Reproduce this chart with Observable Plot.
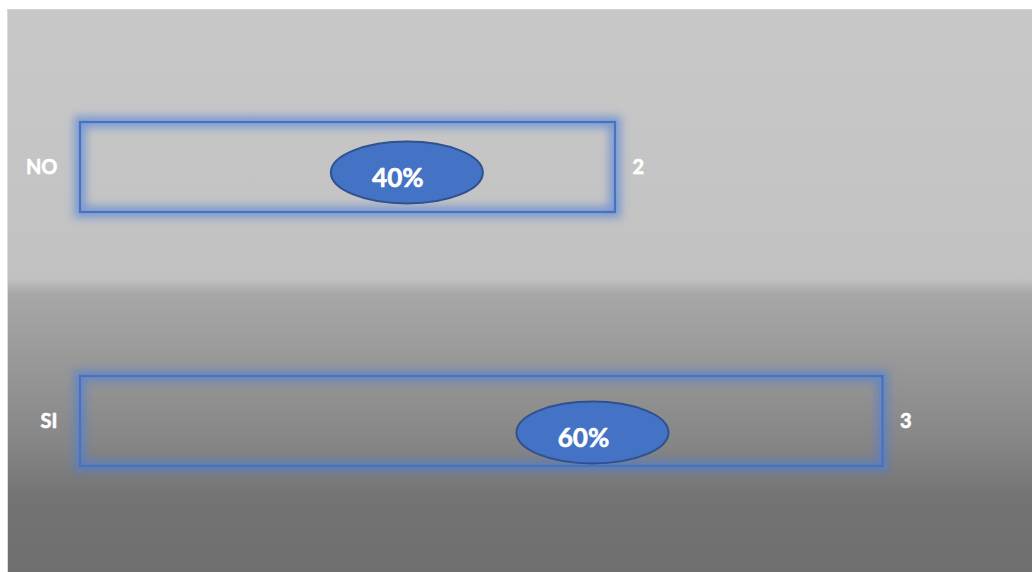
<!DOCTYPE html>
<html>
<head>
<meta charset="utf-8">
<script src="https://cdn.jsdelivr.net/npm/d3@7"></script>
<script src="https://cdn.jsdelivr.net/npm/@observablehq/plot@0.6"></script>
<style>
  html, body { margin: 0; padding: 0; background: #ffffff; }
  #chart { position: absolute; left: 7px; top: 9px; }
  #chart svg {
    display: block;
    border-left: 1px solid #dadada;
    border-top: 1px solid #d2d2d2;
  }
</style>
</head>
<body>
<div id="chart"></div>
<script>
// ---- data ----
const categories = ["NO", "SI"];
const counts = [2, 3];

// ---- layout constants (not data) ----
const calloutFrac = [0.61, 0.638];   // callout centre as a fraction of bar length
const calloutDy = [5, 11];           // callout vertical offset from bar centre (px)

const total = d3.sum(counts);
const rows = categories.map((c, i) => ({
  cat: c,
  value: counts[i],
  pct: Math.round(counts[i] / total * 100) + "%",
  cx: counts[i] * calloutFrac[i]
}));

const K = 0.5522847498;
const ellipse = {
  draw(ctx) {
    const rx = 76, ry = 31, kx = rx * K, ky = ry * K;
    ctx.moveTo(rx, 0);
    ctx.bezierCurveTo(rx, ky, kx, ry, 0, ry);
    ctx.bezierCurveTo(-kx, ry, -rx, ky, -rx, 0);
    ctx.bezierCurveTo(-rx, -ky, -kx, -ry, 0, -ry);
    ctx.bezierCurveTo(kx, -ry, rx, -ky, rx, 0);
    ctx.closePath();
  }
};

const font = "Lato, 'Liberation Sans', sans-serif";
const bg = "linear-gradient(to bottom, #c8c8c8 0%, #c2c2c2 46%, #c0c0c0 48%, #a7a7a7 50.5%, #9e9e9e 58%, #868686 77%, #737373 87%, #6f6f6f 100%)";
const textStyle = { fill: "#ffffff", stroke: "#ffffff", strokeWidth: 0.6, fontWeight: "bold" };

const calloutMarks = rows.flatMap((r, i) => [
  Plot.dot([r], { x: "cx", y: "cat", dy: calloutDy[i], symbol: ellipse, r: 10, fill: "#4472c4", stroke: "#2f528f", strokeWidth: 2 }),
  Plot.text([r], { x: "cx", y: "cat", text: "pct", dx: -9, dy: calloutDy[i] + 6, fontSize: 26, ...textStyle })
]);

const chart = Plot.plot({
  width: 1024,
  height: 562,
  style: { background: bg, fontFamily: font, overflow: "visible" },
  x: { domain: [0, 3], range: [72, 874.5], axis: null },
  y: { domain: categories, range: [112, 456], paddingInner: 0.6457, paddingOuter: 0, axis: null },
  marks: [
    // glow
    Plot.barX(rows, { x: "value", y: "cat", fill: "none", stroke: "#4f7fd8", strokeWidth: 12, strokeOpacity: 0.6 }),
    // crisp outline
    Plot.barX(rows, { x: "value", y: "cat", fill: "none", stroke: "#4472c4", strokeWidth: 2.2 }),
    // category labels
    Plot.text(rows, { x: 0, y: "cat", text: "cat", dx: -23, textAnchor: "end", fontSize: 20, ...textStyle }),
    // value labels
    Plot.text(rows, { x: "value", y: "cat", text: d => String(d.value), dx: 17, textAnchor: "start", fontSize: 20, ...textStyle }),
    ...calloutMarks
  ]
});

document.getElementById("chart").appendChild(chart);

// style-only: soften the glow layer
const bars = chart.querySelectorAll('g[aria-label="bar"]');
if (bars.length) bars[0].style.filter = "blur(4px)";
</script>
</body>
</html>
